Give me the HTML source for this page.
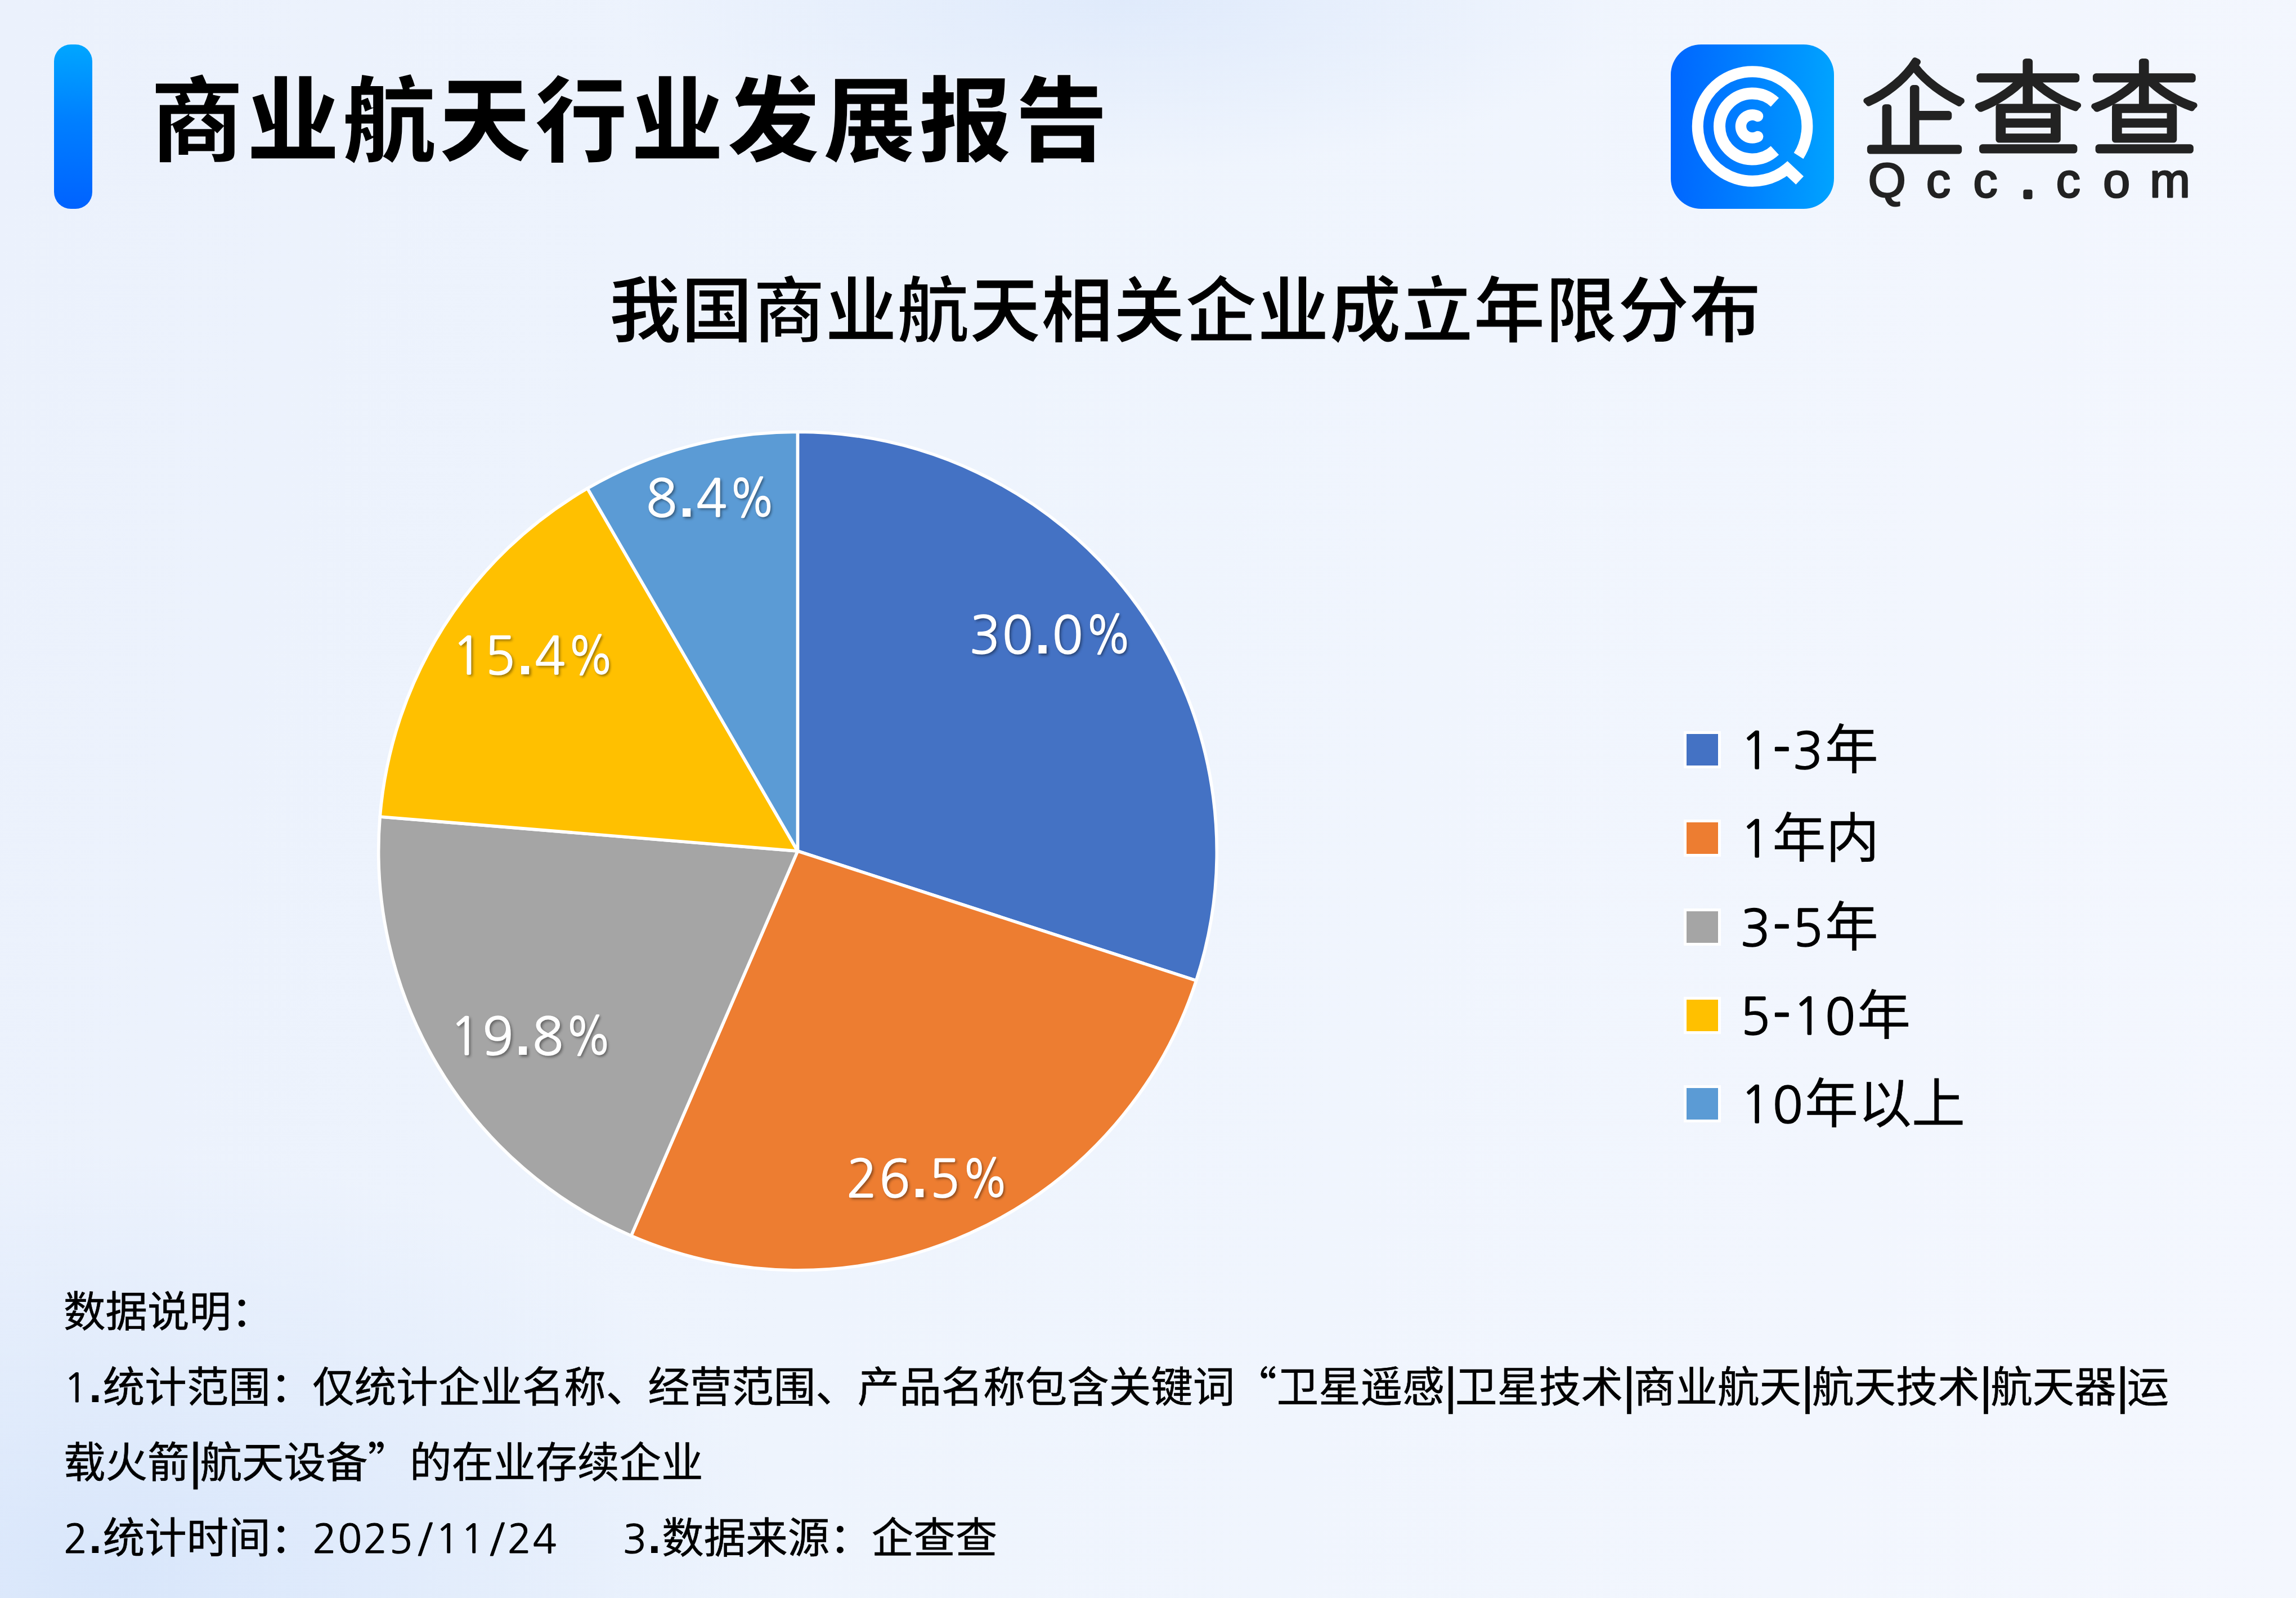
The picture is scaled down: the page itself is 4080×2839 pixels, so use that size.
<!DOCTYPE html>
<html lang="zh-CN">
<head>
<meta charset="utf-8">
<title>商业航天行业发展报告</title>
<style>
html,body{margin:0;padding:0;}
body{width:4080px;height:2839px;position:relative;overflow:hidden;
  font-family:"Liberation Sans","Noto Sans CJK SC",sans-serif;color:#000;
  background:
    radial-gradient(ellipse 1200px 750px at 200px 2800px, rgba(208,225,250,0.7), rgba(208,225,250,0) 100%),
    radial-gradient(ellipse 900px 300px at 2000px 0px, rgba(214,228,250,0.6), rgba(214,228,250,0) 100%),
    linear-gradient(100deg,#EBF1FC 0%,#EEF4FD 40%,#F4F7FE 100%);
}
.abs{position:absolute;white-space:nowrap;}
#bar{left:96px;top:79px;width:68px;height:292px;border-radius:30px;
  background:linear-gradient(180deg,#00A6FF 0%,#0080FF 45%,#0062FF 100%);}
#title{left:267px;top:119px;font-family:"Noto Sans CJK SC",sans-serif;font-weight:900;font-size:166px;line-height:1;letter-spacing:4.7px;-webkit-text-stroke:3px #EDF2FC;}
#ctitle{left:1082px;top:479px;font-family:"Noto Sans CJK SC",sans-serif;font-weight:700;font-size:128px;line-height:1;-webkit-text-stroke:2.4px #EEF3FC;}
#logo-icon{left:2969px;top:79px;width:290px;height:292px;}
.lbl{font-family:"NanumGothic","Liberation Sans",sans-serif;font-size:91px;line-height:1;color:#fff;-webkit-text-stroke:1.5px #fff;
  text-shadow:3px 3px 5px rgba(0,0,0,0.45);letter-spacing:3px;}
.lbl b{font-family:"Liberation Sans",sans-serif;font-size:100px;font-weight:700;-webkit-text-stroke:0;}
.pc{display:inline-block;transform:scaleX(0.84);transform-origin:0 0;}
.lg{left:2992px;width:66px;height:66px;box-sizing:border-box;border:5px solid #fff;}
.lgt{left:3092px;font-family:"Liberation Sans","Noto Sans CJK SC",sans-serif;font-size:95px;line-height:1;-webkit-text-stroke:0.4px #000;}
.note{left:113px;font-family:"Noto Sans CJK SC",sans-serif;font-size:74.5px;line-height:1;font-weight:400;-webkit-text-stroke:0.6px #000;}
.d{font-family:"NanumGothic","Liberation Sans",sans-serif;font-size:71px;letter-spacing:2px;-webkit-text-stroke:1px #000;}
.sl{margin:0 2.8px 0 6.5px;}
.d b{font-family:"Liberation Sans",sans-serif;font-size:82px;font-weight:700;-webkit-text-stroke:0;}
.bar{font-weight:700;letter-spacing:-3px;}
.ld{font-family:"NanumGothic","Liberation Sans",sans-serif;font-size:90px;letter-spacing:3px;-webkit-text-stroke:1.4px #000;}
</style>
</head>
<body>
<div id="bar" class="abs"></div>
<div id="title" class="abs">商业航天行业发展报告</div>

<svg id="logo-icon" class="abs" viewBox="0 0 290 292" width="290" height="292">
  <defs>
    <linearGradient id="lgi" x1="0" y1="0" x2="1" y2="0">
      <stop offset="0" stop-color="#0066FF"/>
      <stop offset="0.5" stop-color="#0082FF"/>
      <stop offset="1" stop-color="#00A3FF"/>
    </linearGradient>
  </defs>
  <rect x="0" y="0" width="290" height="292" rx="54" ry="54" fill="url(#lgi)"/>
  <g fill="none" stroke="#fff" stroke-width="20">
    <path d="M227.1,197.8 A97.3,97.3 0 1 0 206.9,220.6 L229.2,241.5" stroke-linejoin="miter" stroke-miterlimit="10"/>
    <path d="M184.9,102.7 A58.5,58.5 0 1 0 184.9,188.3" stroke-width="21"/>
    <path d="M154.6,127.4 A20.5,20.5 0 1 0 154.6,163.6" stroke-width="19.5" stroke-linecap="round"/>
  </g>
</svg>
<svg class="abs" style="left:0;top:0" width="4080" height="420" viewBox="0 0 4080 420">
  <g font-family="'Noto Sans CJK SC', sans-serif" font-weight="100" font-size="181" fill="#222" stroke="#222" stroke-width="11" stroke-linejoin="round" stroke-linecap="round">
    <text transform="translate(3308 259.8) scale(1.02 1)">企</text>
    <text transform="translate(3506.2 259.8) scale(1.076 1)">查</text>
    <text transform="translate(3712.8 259.8) scale(1.076 1)">查</text>
  </g>
  <text font-family="'Liberation Sans', sans-serif" font-size="86" fill="#222" stroke="#222" stroke-width="3" stroke-linejoin="round" y="349.5" x="3319.7 3423 3506.5 3591.6 3653.8 3737.3 3820.2">Qcc<tspan stroke-width="8">.</tspan>com</text>
</svg>

<div id="ctitle" class="abs">我国商业航天相关企业成立年限分布</div>

<svg class="abs" style="left:0;top:0" width="4080" height="2839" viewBox="0 0 4080 2839">
  <g stroke="#fff" stroke-width="5.6" stroke-linejoin="round">
<path d="M1417.4,1512 L1417.4,767.3 A744.7,744.7 0 0 1 2125.7,1742.1 Z" fill="#4472C4"/>
<path d="M1417.4,1512 L2125.7,1742.1 A744.7,744.7 0 0 1 1121.6,2195.5 Z" fill="#ED7D31"/>
<path d="M1417.4,1512 L1121.6,2195.5 A744.7,744.7 0 0 1 675.2,1451.0 Z" fill="#A5A5A5"/>
<path d="M1417.4,1512 L675.2,1451.0 A744.7,744.7 0 0 1 1043.9,867.7 Z" fill="#FFC000"/>
<path d="M1417.4,1512 L1043.9,867.7 A744.7,744.7 0 0 1 1417.4,767.3 Z" fill="#5B9BD5"/>
  </g>
</svg>

<div class="abs lbl" style="left:1722.5px;top:1076px">30<b>.</b>0<span class="pc">%</span></div>
<div class="abs lbl" style="left:1148px;top:833px">8<b>.</b>4<span class="pc">%</span></div>
<div class="abs lbl" style="left:803px;top:1113px">15<b>.</b>4<span class="pc">%</span></div>
<div class="abs lbl" style="left:799px;top:1789px">19<b>.</b>8<span class="pc">%</span></div>
<div class="abs lbl" style="left:1504px;top:2042px">26<b>.</b>5<span class="pc">%</span></div>

<div class="abs lg" style="top:1299px;background:#4472C4"></div>
<div class="abs lg" style="top:1456px;background:#ED7D31"></div>
<div class="abs lg" style="top:1614px;background:#A5A5A5"></div>
<div class="abs lg" style="top:1771px;background:#FFC000"></div>
<div class="abs lg" style="top:1928px;background:#5B9BD5"></div>
<div class="abs lgt" style="top:1286px"><span class="ld">1-3</span>年</div>
<div class="abs lgt" style="top:1443px"><span class="ld">1</span>年内</div>
<div class="abs lgt" style="top:1601px"><span class="ld">3-5</span>年</div>
<div class="abs lgt" style="top:1758px"><span class="ld">5-10</span>年</div>
<div class="abs lgt" style="top:1915px"><span class="ld">10</span>年以上</div>

<div class="abs note" style="top:2288px">数据说明：</div>
<div class="abs note" style="top:2422px"><span class="d">1<b>.</b></span>统计范围：仅统计企业名称、经营范围、产品名称包含关键词“卫星遥感<span class="bar">|</span>卫星技术<span class="bar">|</span>商业航天<span class="bar">|</span>航天技术<span class="bar">|</span>航天器<span class="bar">|</span>运</div>
<div class="abs note" style="top:2556px">载火箭<span class="bar">|</span>航天设备”的在业存续企业</div>
<div class="abs note" style="top:2690px"><span class="d">2<b>.</b></span>统计时间：<span class="d">2025<span class="sl">/</span>11<span class="sl">/</span>24</span><span style="display:inline-block;width:115px"></span><span class="d">3<b>.</b></span>数据来源：企查查</div>
</body>
</html>
